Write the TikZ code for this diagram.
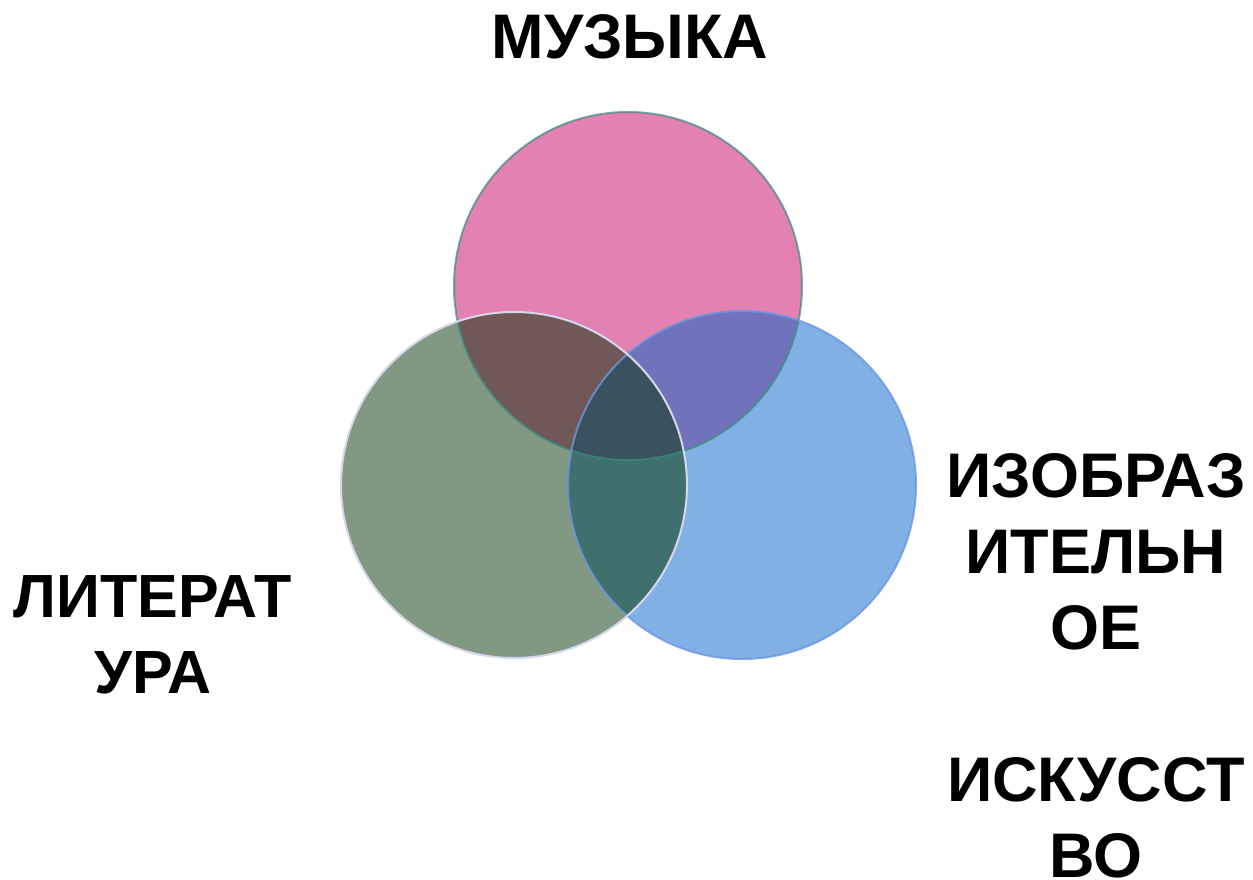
\documentclass[tikz,border=0pt]{standalone}
\usepackage{fontspec}
\setmainfont{Liberation Sans}
\usetikzlibrary{positioning}
\definecolor{muscol}{RGB}{227,129,178}
\definecolor{litcol}{RGB}{129,153,130}
\definecolor{izocol}{RGB}{128,176,228}
\definecolor{mlcol}{RGB}{112,88,88}
\definecolor{micol}{RGB}{112,115,188}
\definecolor{licol}{RGB}{64,112,110}
\definecolor{allcol}{RGB}{58,82,94}
\tikzset{
  word/.style={font=\bfseries\fontsize{63}{76}\selectfont,align=center,inner sep=0pt},
  rim/.style={line width=2pt}
}

\begin{document}
\begin{tikzpicture}[x=1pt,y=-1pt]
    \useasboundingbox (0,0) rectangle (1253,880);

    % — Circle centres
    \coordinate (mus) at (628,286);
    \coordinate (lit) at (514,485);
    \coordinate (izo) at (742,485);

    % — Plain circle fills
    \fill [muscol] (mus) circle [radius=174pt];
    \fill [litcol] (lit) circle [radius=173pt];
    \fill [izocol] (izo) circle [radius=174pt];

    % — Pairwise overlaps
    \begin{scope}
      \clip (mus) circle [radius=174pt];
      \fill [mlcol] (lit) circle [radius=173pt];
      \fill [micol] (izo) circle [radius=174pt];
      \clip (lit) circle [radius=173pt];
      \fill [allcol] (izo) circle [radius=174pt];
    \end{scope}
    \begin{scope}
      \clip (lit) circle [radius=173pt];
      \clip (izo) circle [radius=174pt];
      \fill [licol] (izo) circle [radius=174pt];
      \clip (mus) circle [radius=174pt];
      \fill [allcol] (mus) circle [radius=174pt];
    \end{scope}

    % — Outlines
    \draw [rim, draw={rgb,255:red,60;green,140;blue,130}, draw opacity=0.7] (mus) circle [radius=174pt];
    \draw [rim, draw={rgb,255:red,110;green,150;blue,225}, draw opacity=0.8] (izo) circle [radius=174pt];
    \draw [rim, draw={rgb,255:red,215;green,215;blue,235}] (lit) circle [radius=173pt];

    % — Labels
    \node [word, anchor=base] (musl) at (630,59) {МУЗЫКА};
    \node [word, anchor=base, font=\bfseries\fontsize{61}{76}\selectfont] (litl) at (153,693) {ЛИТЕРАТ\\УРА};
    \node [word, anchor=base] (izol) at (1096,877)
      {ИЗОБРАЗ\\ИТЕЛЬН\\ОЕ\\[76pt]ИСКУССТ\\ВО};
\end{tikzpicture}
\end{document}
